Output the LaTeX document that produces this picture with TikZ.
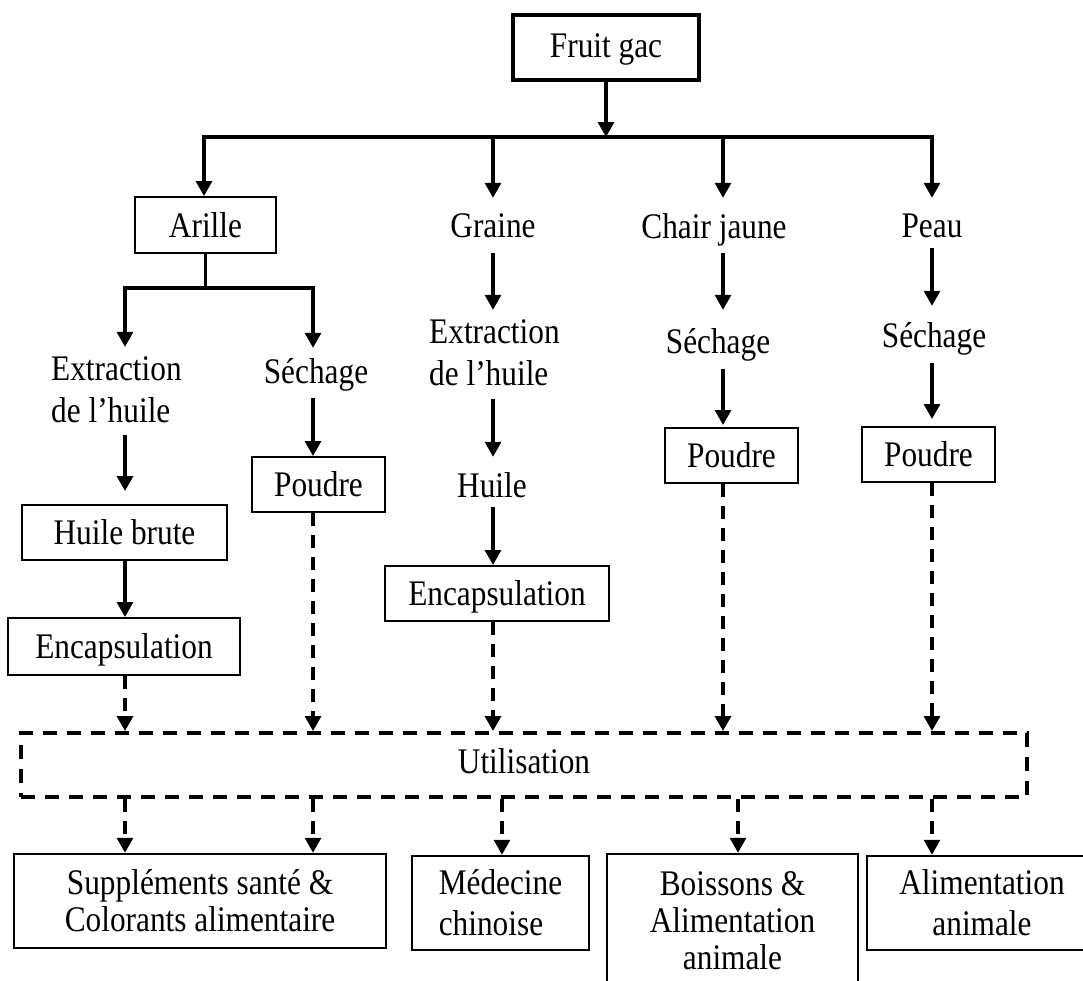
\documentclass[tikz,border=0pt]{standalone}
\usepackage{fontspec}
\setmainfont{Liberation Serif}[FakeStretch=0.87]
\usetikzlibrary{arrows.meta,calc}
\begin{document}
\begin{tikzpicture}[x=1pt,y=-1pt,
  every node/.style={font=\fontsize{36}{37}\selectfont, inner sep=0pt},
  arr/.style={-{Triangle[width=16pt,length=15pt]}, line width=3.2pt},
  darr/.style={arr, dash pattern=on 13pt off 9pt},
  ln/.style={line width=3.2pt, line cap=rect},
  box/.style={draw, line width=2pt, text height=24pt, text depth=0pt},
  bbox/.style={draw, line width=2.5pt, align=center},
  lbl/.style={anchor=base},
  lblw/.style={anchor=base west},
]
\useasboundingbox (0,0) rectangle (1083,980);
\clip (0,0) rectangle (1083,980);

% top level
\node[box, line width=4.5pt, minimum width=186pt, minimum height=65pt, text height=20pt] (fruit) at (606,47.5) {Fruit gac};
\coordinate (barL) at (204,137);
\coordinate (barR) at (932,137);
\coordinate (cx) at (723,0);
\coordinate (mx) at (502,0);
\coordinate (bx) at (738,0);

\node[box, minimum width=141pt, minimum height=56pt] (arille) at (205.5,225) {Arille};
\node[lbl, text height=39pt, text depth=16pt] (graine) at (493,237) {Graine};
\node[lbl, text height=40pt, text depth=15pt] (chair) at (714,238) {Chair jaune};
\node[lbl, text height=39pt, text depth=11pt] (peau) at (932,237) {Peau};

\draw[arr] (fruit.south) -- (fruit.south |- barL);
\draw[ln] (barL) -- (barR);
\draw[arr] (barL) -- (arille.north -| barL);
\draw[arr] (graine.north |- barL) -- (graine.north);
\draw[arr] (cx |- barL) -- (chair.north -| cx);
\draw[arr] (barR) -- (peau.north);

% Arille column
\coordinate (splitL) at (125,288);
\coordinate (splitR) at (313,288);
\draw[ln] (arille.south) -- (arille.south |- splitL);
\draw[ln] (splitL) -- (splitR);
\node[lblw, text height=33pt, text depth=0pt] (extA1) at (51,380) {Extraction};
\node[lblw, text height=22pt, text depth=13pt] (extA2) at (51,422) {de l’huile};
\draw[arr] (splitL) -- (splitL |- extA1.north);
\node[lbl, text height=35pt, text depth=15pt] (sechA) at (316,383) {Séchage};
\draw[arr] (splitR) -- (splitR |- sechA.north);
\node[box, minimum width=205pt, minimum height=55pt] (huileb) at (124.5,532.5) {Huile brute\hspace{21pt}};
\draw[arr, shorten >=13pt] (extA2.south -| splitL) -- (huileb.north -| splitL);
\node[box, minimum width=232pt, minimum height=57pt] (encapA) at (124,646.5) {Encapsulation\hspace{12pt}};
\draw[arr] (huileb.south -| splitL) -- (encapA.north -| splitL);
\node[box, minimum width=133pt, minimum height=55pt] (poudreA) at (318.5,484.5) {Poudre};
\draw[arr] (sechA.south -| splitR) -- (poudreA.north -| splitR);

% Graine column
\node[lblw, text height=33pt, text depth=0pt] (extB1) at (429,343) {Extraction};
\node[lblw, text height=22pt, text depth=14pt] (extB2) at (429,385) {de l’huile};
\draw[arr] (graine.south) -- (graine.south |- extB1.north);
\node[lbl, text height=40pt, text depth=10pt] (huile) at (492,497) {Huile};
\draw[arr] (extB2.south -| graine.south) -- (huile.north -| graine.south);
\node[box, minimum width=224pt, minimum height=55pt] (encapB) at (497,593.5) {Encapsulation};
\draw[arr] (huile.south -| graine.south) -- (encapB.north -| graine.south);

% Chair jaune column
\node[lbl, text height=43pt, text depth=16pt] (sechC) at (718,353) {Séchage};
\draw[arr] (chair.south -| cx) -- (sechC.north -| cx);
\node[box, minimum width=133pt, minimum height=55pt] (poudreC) at (731.5,455.5) {Poudre};
\draw[arr, shorten >=2pt] (sechC.south -| cx) -- (poudreC.north -| cx);

% Peau column
\node[lbl, text height=41pt, text depth=16pt] (sechP) at (934,347) {Séchage};
\draw[arr] (peau.south) -- (sechP.north -| peau.south);
\node[box, minimum width=133pt, minimum height=55pt] (poudreP) at (928.5,454.5) {Poudre};
\draw[arr, shorten >=7pt] (sechP.south -| peau.south) -- (poudreP.north -| peau.south);

% Utilisation
\node[draw, line width=4pt, dash pattern=on 14pt off 10pt, minimum width=1006pt, minimum height=64pt, text height=22pt, text depth=6pt] (util) at (524,765) {Utilisation};

\draw[darr] (encapA.south -| splitL) -- (util.north -| splitL);
\draw[darr] (poudreA.south -| splitR) -- (util.north -| splitR);
\draw[darr] (encapB.south -| graine.south) -- (util.north -| graine.south);
\draw[darr] (poudreC.south -| cx) -- (util.north -| cx);
\draw[darr] (poudreP.south -| peau.south) -- (util.north -| peau.south);

% bottom boxes
\node[bbox, minimum width=372pt, minimum height=94pt] (suppl) at (200,901) {Suppléments santé \&\\Colorants alimentaire};
\node[bbox, align=left, font=\fontsize{36}{41}\selectfont, minimum width=177pt, minimum height=94pt] (med) at (500.5,903) {Médecine\\chinoise};
\node[bbox, minimum width=251pt, minimum height=134pt] (boiss) at (732.5,921) {Boissons \&\\Alimentation\\animale};
\node[bbox, font=\fontsize{36}{41}\selectfont, minimum width=230pt, minimum height=94pt] (alim) at (982,903) {Alimentation\\animale};

\draw[darr] (util.south -| splitL) -- (suppl.north -| splitL);
\draw[darr] (util.south -| splitR) -- (suppl.north -| splitR);
\draw[darr] (util.south -| mx) -- (med.north -| mx);
\draw[darr] (util.south -| bx) -- (boiss.north -| bx);
\draw[darr] (util.south -| peau.south) -- (alim.north -| peau.south);
\end{tikzpicture}
\end{document}
